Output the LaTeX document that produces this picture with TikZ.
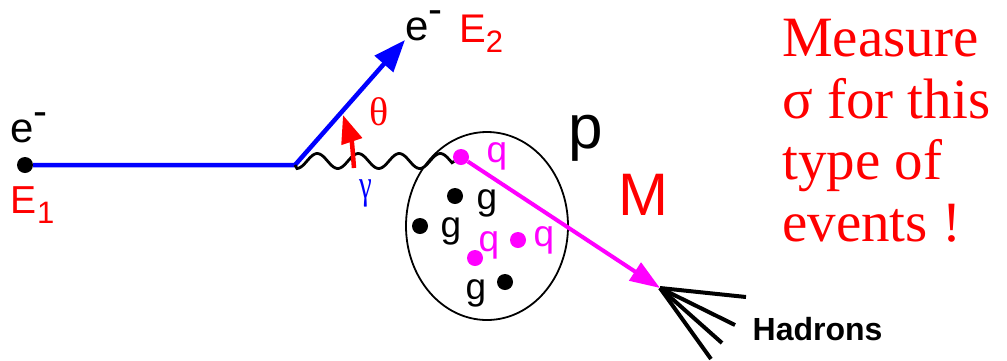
\documentclass[tikz,border=0pt]{standalone}
\usepackage{fontspec}
\setmainfont{Liberation Sans}
\newfontfamily\serifgr{Liberation Serif}
\usetikzlibrary{arrows.meta,shapes.geometric}
\definecolor{pmag}{RGB}{255,0,255}
\definecolor{pblue}{RGB}{0,0,255}
\definecolor{pred}{RGB}{255,0,0}
\newcommand\fsz[1]{\fontsize{#1}{#1}\selectfont}
\tikzset{
  pdot/.style={circle, fill=#1, minimum size=16pt, inner sep=0pt},
  lbl/.style={anchor=base west, inner sep=0pt},
  thickline/.style={line width=4pt},
}
\begin{document}
\begin{tikzpicture}[x=1pt,y=-1pt]
\useasboundingbox (0,0) rectangle (1007,360);
% proton
\node[draw, ellipse, line width=1.8pt, minimum width=162pt, minimum height=188pt, inner sep=0pt] (proton) at (487,226) {};
% electron line
\node[pdot=black] (e1) at (25,165) {};
\coordinate (v) at (295,165);
\coordinate (e2end) at (405,40);
\draw[pblue, line width=4.5pt, -{Triangle[length=32pt,width=24pt]}] (e1) -- (v) -- (e2end);
% photon
\node[pdot=pmag] (q0) at (461,157) {};
\draw[line width=2.8pt] (v) -- plot[domain=297:452, samples=90, smooth] (\x, {161 - 7.5*sin(8.7805*(\x-307))}) -- (q0);
% theta arrow
\coordinate (tb) at (354,168);
\coordinate (tt) at (343,115);
\draw[pred, line width=4.5pt, -{Triangle[length=28pt,width=21pt]}] (tb) .. controls (352,142) .. (tt);
% partons
\node[pdot=black] (g1) at (455,196) {};
\node[pdot=black] (g2) at (420,226) {};
\node[pdot=black] (g3) at (505,282) {};
\node[pdot=pmag] (q1) at (475,258) {};
\node[pdot=pmag] (q2) at (518,240) {};
% hadrons
\coordinate (hv) at (660,288);
\coordinate (h1) at (746,297);
\coordinate (h2) at (735,325);
\coordinate (h3) at (722,343);
\coordinate (h4) at (711,359);
\draw[thickline] (hv) -- (h1);
\draw[thickline] (hv) -- (h2);
\draw[thickline] (hv) -- (h3);
\draw[thickline] (hv) -- (h4);
\draw[pmag, thickline, -{Triangle[length=30pt,width=21pt]}] (q0) -- (hv);
% labels
\node[lbl, font=\fsz{42}] (le1) at (10,142) {e\raisebox{0.39em}{-}};
\node[lbl, font=\fsz{39}, pred] (lE1) at (10,213) {E\kern1pt\raisebox{-10pt}{\fsz{31}1}};
\node[lbl, font=\fsz{42}] (le2) at (405,40) {e\raisebox{0.4em}{-}};
\node[lbl, font=\fsz{40}, pred] (lE2) at (459,42) {E\raisebox{-10pt}{\fsz{31}2}};
\node[lbl, font=\serifgr\fsz{40}, pred] (lth) at (369,125) {θ};
\node[inner sep=0pt, font=\serifgr\fsz{41}, pblue] (lga) at (366,193) {\scalebox{0.7}[1]{γ}};
\node[lbl, font=\fsz{62}] (lp) at (568,148) {p};
\node[lbl, font=\fsz{60}, pred] (lM) at (618,215) {M};
\node[lbl, font=\fsz{37}, pmag] (lq0) at (486.5,162) {q};
\node[lbl, font=\fsz{37}] (lg1) at (476.5,209) {g};
\node[lbl, font=\fsz{37}] (lg2) at (440.5,237) {g};
\node[lbl, font=\fsz{37}, pmag] (lq1) at (478.5,251) {q};
\node[lbl, font=\fsz{37}, pmag] (lq2) at (533.5,246) {q};
\node[lbl, font=\fsz{37}] (lg3) at (465.5,299) {g};
\node[lbl, font=\bfseries\fsz{32}] (lh) at (752.5,340) {Hadrons};
\node[anchor=north west, inner sep=0pt, align=left, pred, font=\serifgr\fontsize{57}{61.5}\selectfont] (meas) at (782,19) {Measure\\σ for this\\type of\\events !};
\end{tikzpicture}
\end{document}
